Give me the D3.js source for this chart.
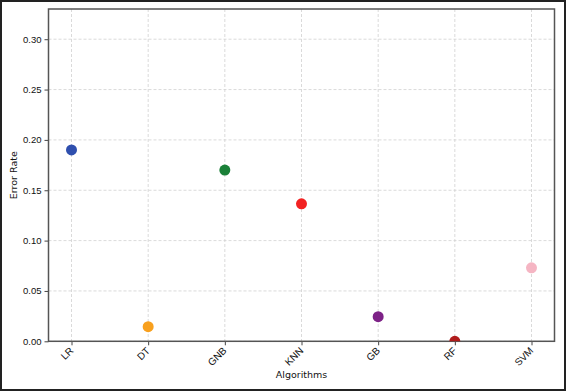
<!DOCTYPE html>
<html><head><meta charset="utf-8">
<script src="https://cdn.jsdelivr.net/npm/d3@7"></script>
<style>
html,body{margin:0;padding:0;background:#fff;}
svg{display:block;font-family:"DejaVu Sans",sans-serif;}
</style></head>
<body>
<script>
const algorithms = ["LR","DT","GNB","KNN","GB","RF","SVM"];
const errorRates = [0.190, 0.0145, 0.170, 0.1365, 0.0245, 0.0, 0.073];
const colors = ["#2f4fae","#f8a01e","#1a8038","#f22222","#7d2287","#b01c1c","#f5b5c3"];
const yTicks = [0.00,0.05,0.10,0.15,0.20,0.25,0.30];

const W = 566, H = 391;
const L = 48.5, R = 554.5, T = 9, B = 341.3;

const svg = d3.select("body").append("svg").attr("width", W).attr("height", H);
svg.append("rect").attr("x",1).attr("y",1).attr("width",W-2).attr("height",H-2)
  .attr("fill","#fff").attr("stroke","#222").attr("stroke-width",2);

const x = d3.scaleLinear().domain([-0.3, algorithms.length - 0.7]).range([L, R]);
const y = d3.scaleLinear().domain([0, 0.33]).range([B, T]);

const defs = svg.append("defs");
defs.append("clipPath").attr("id","clip").append("rect")
  .attr("x",L).attr("y",T).attr("width",R-L).attr("height",B-T);

// grid
const grid = svg.append("g");
grid.selectAll("line.h").data(yTicks).join("line")
  .attr("x1",L).attr("x2",R).attr("y1",d=>y(d)).attr("y2",d=>y(d))
  .attr("stroke","#d0d0d0").attr("stroke-width",0.8).attr("stroke-dasharray","3,2");
grid.selectAll("line.v").data(algorithms).join("line")
  .attr("x1",(d,i)=>x(i)).attr("x2",(d,i)=>x(i)).attr("y1",T).attr("y2",B)
  .attr("stroke","#d0d0d0").attr("stroke-width",0.8).attr("stroke-dasharray","3,2");

// axes
const yAxis = d3.axisLeft(y).tickValues(yTicks).tickFormat(d3.format(".2f")).tickSize(4).tickPadding(3);
const gy = svg.append("g").attr("transform",`translate(${L},0)`).call(yAxis);
gy.select(".domain").remove();
gy.selectAll("text").attr("font-size",9.5).attr("fill","#111");
gy.selectAll("line").attr("stroke","#444");

const xAxis = d3.axisBottom(x).tickValues(d3.range(algorithms.length)).tickFormat(i=>algorithms[i]).tickSize(4);
const gx = svg.append("g").attr("transform",`translate(0,${B})`).call(xAxis);
gx.select(".domain").remove();
gx.selectAll("line").attr("stroke","#444");
gx.selectAll("text").attr("font-size",10).attr("fill","#111")
  .attr("text-anchor","end").attr("dy",null).attr("y",0)
  .attr("transform","translate(2,10) rotate(-45)");

// frame
svg.append("rect").attr("x",L).attr("y",T).attr("width",R-L).attr("height",B-T)
  .attr("fill","none").attr("stroke","#555").attr("stroke-width",1.5);

// points
svg.append("g").attr("clip-path","url(#clip)").selectAll("circle").data(errorRates).join("circle")
  .attr("cx",(d,i)=>x(i)).attr("cy",d=>y(d)).attr("r",5.5)
  .attr("fill",(d,i)=>colors[i]);

// labels
svg.append("text").attr("x",(L+R)/2).attr("y",378).attr("text-anchor","middle")
  .attr("font-size",9.5).attr("fill","#111").text("Algorithms");
svg.append("text").attr("transform",`translate(17,${(T+B)/2}) rotate(-90)`).attr("text-anchor","middle")
  .attr("font-size",9.5).attr("fill","#111").text("Error Rate");
</script>
</body></html>
